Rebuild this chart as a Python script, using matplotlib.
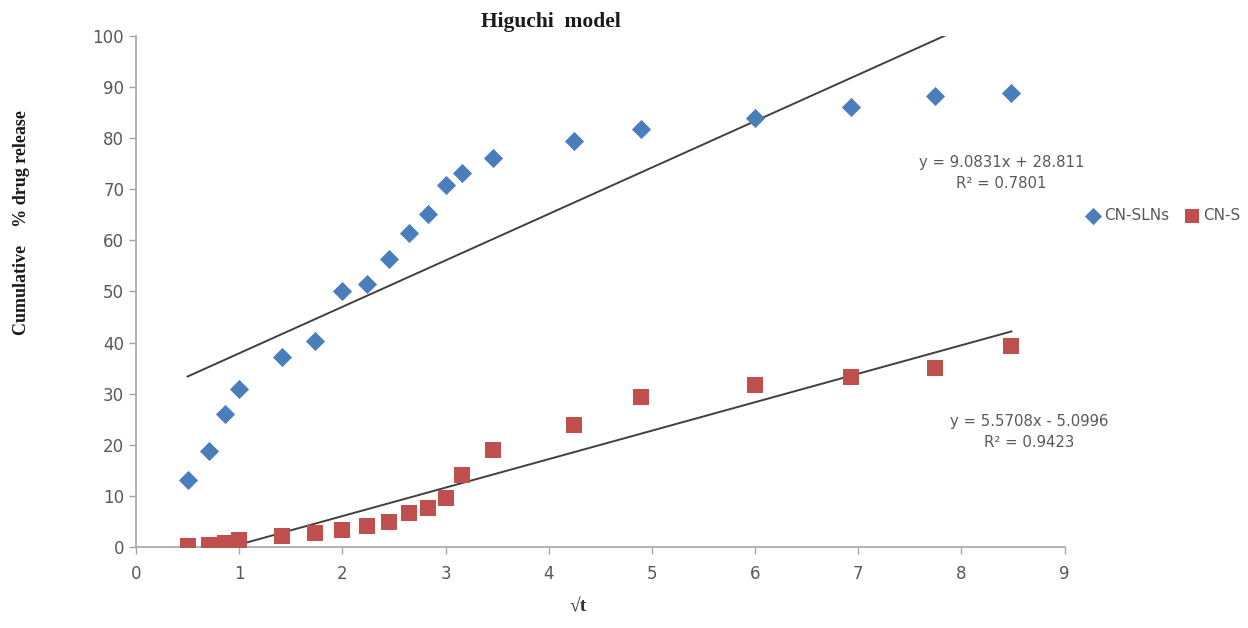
import matplotlib
matplotlib.use("Agg")
import matplotlib.pyplot as plt
import numpy as np

# sqrt(t) values and cumulative % drug release
sqrt_t = [0.5, 0.707, 0.866, 1.0, 1.414, 1.732, 2.0, 2.236, 2.449, 2.646,
          2.828, 3.0, 3.162, 3.464, 4.243, 4.899, 6.0, 6.928, 7.746, 8.485]
sln = [13.1, 18.8, 26.0, 30.9, 37.1, 40.3, 50.0, 51.5, 56.3, 61.4,
       65.1, 70.9, 73.2, 76.0, 79.4, 81.7, 84.0, 86.0, 88.2, 88.8]
susp = [0.2, 0.4, 0.8, 1.3, 2.1, 2.7, 3.3, 4.2, 4.8, 6.7,
        7.6, 9.6, 14.1, 19.0, 23.9, 29.3, 31.6, 33.3, 35.0, 39.3]

# trendline coefficients as printed on the chart
fit_sln = (9.0831, 28.811, 0.7801)
fit_susp = (5.5708, -5.0996, 0.9423)

BLUE = "#4A7EBB"
RED = "#C0504D"
GRAY = "#595959"
SPINE = "#A6A6A6"

fig = plt.figure(figsize=(12.48, 6.28), dpi=100)
ax = fig.add_axes([0.109, 0.129, 0.744, 0.814])

ax.scatter(sqrt_t, sln, marker="D", s=95, color=BLUE, label="CN-SLNs", zorder=3, linewidths=0)
ax.scatter(sqrt_t, susp, marker="s", s=135, color=RED, label="CN-S", zorder=3, linewidths=0)


def trend(a, b, lo=0, hi=100):
    # excel clips the trendline to the axis range
    x0, x1 = min(sqrt_t), max(sqrt_t)
    xs = np.array([max(x0, (lo - b) / a), min(x1, (hi - b) / a)])
    return xs, a * xs + b


for a, b, _ in (fit_sln, fit_susp):
    xs, ys = trend(a, b)
    ax.plot(xs, ys, color="#404040", lw=1.4, zorder=2)

ax.set_xlim(0, 9)
ax.set_ylim(0, 100)
ax.set_xticks(range(0, 10))
ax.set_yticks(range(0, 101, 10))
for s in ["top", "right"]:
    ax.spines[s].set_visible(False)
for s in ["left", "bottom"]:
    ax.spines[s].set_color(SPINE)
    ax.spines[s].set_linewidth(1.2)
ax.tick_params(colors=SPINE, labelcolor=GRAY, labelsize=12, length=5, width=1.0, direction="out")
ax.tick_params(axis="x", pad=8)

fig.text(0.4415, 0.965, "Higuchi  model", family="Liberation Serif", weight="bold",
         fontsize=15.5, ha="center", va="center", color="#1a1a1a")
fig.text(0.463, 0.034, "\u221At", family="Liberation Serif", weight="bold",
         fontsize=14, ha="center", va="center", color="#333333")
fig.text(0.017, 0.646, "Cumulative    % drug release", family="Liberation Serif", weight="bold",
         fontsize=13, ha="center", va="center", rotation=90, color="#1a1a1a")

a, b, r2 = fit_sln
ax.text(8.39, 73.1, "y = {:.4f}x + {:.3f}\nR\u00b2 = {:.4f}".format(a, b, r2),
        ha="center", va="center", fontsize=10.7, color=GRAY, linespacing=1.5)
a, b, r2 = fit_susp
ax.text(8.66, 22.5, "y = {:.4f}x - {:.4f}\nR\u00b2 = {:.4f}".format(a, abs(b), r2),
        ha="center", va="center", fontsize=10.7, color=GRAY, linespacing=1.5)

leg = fig.legend(loc="center left", bbox_to_anchor=(0.859, 0.657), ncol=2, frameon=False,
                 fontsize=11, handletextpad=0.2, columnspacing=1.0, markerscale=0.9,
                 handlelength=1.0)
for t in leg.get_texts():
    t.set_color(GRAY)

fig.savefig("out.png", dpi=100, facecolor="white")
